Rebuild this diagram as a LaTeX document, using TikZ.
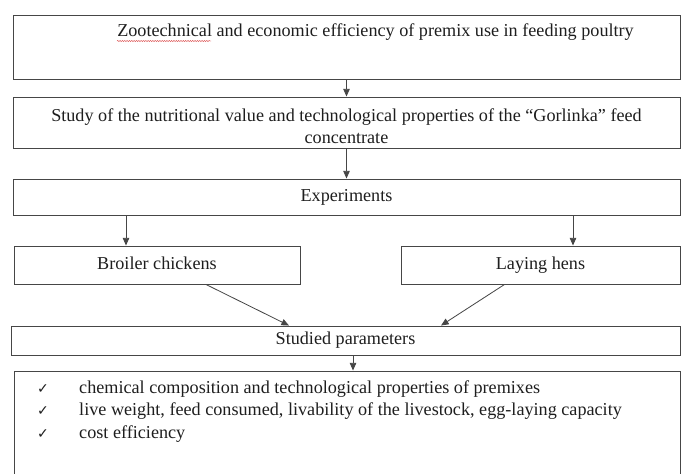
\documentclass[tikz,border=0pt]{standalone}
\usepackage{fontspec}
\setmainfont{Liberation Serif}
\newfontfamily\symfont{DejaVu Sans}
\usetikzlibrary{arrows.meta,decorations.pathmorphing}
\definecolor{linegray}{RGB}{70,70,70}
\definecolor{inkgray}{RGB}{30,30,30}

\begin{document}
\begin{tikzpicture}
  \tikzset{rect/.style={draw=linegray,rectangle,line width=0.8pt,inner sep=0pt,minimum width=20.01cm,font=\fontsize{15.5}{18.8}\selectfont,text=inkgray,align=center}}
  \tikzset{arrow/.style={draw=linegray,line width=0.7pt,-{Triangle[length=6.5pt,width=5.5pt]}}}
  \def\chk{\makebox[1.26cm][l]{\symfont\fontsize{12}{12}\selectfont ✓}}

  \useasboundingbox (0,0) rectangle (20.43,-14.19);

  \node[rect,minimum height=1.92cm,text height=0.645cm,text depth=1.275cm] (goal) at (10.395,-1.41) {\hspace*{1.74cm}Zootechnical and economic efficiency of premix use in feeding poultry};
  \node[rect,minimum height=1.53cm,text height=1.28cm] (study) at (10.395,-3.675) {Study of the nutritional value and technological properties of the “Gorlinka” feed\\concentrate};
  \node[rect,minimum height=1.08cm] (exp) at (10.395,-5.91) {\strut Experiments};

  \node[rect,minimum width=8.58cm,minimum height=1.14cm] (broiler) at (4.71,-7.95) {\strut Broiler chickens};
  \node[rect,minimum width=8.37cm,minimum height=1.14cm] (hens) at (16.215,-7.95) {\strut Laying hens};

  \node[rect,minimum width=20.07cm,minimum height=0.87cm] (params) at (10.365,-10.215) {\strut Studied parameters};
  \node[rect,minimum width=19.98cm,minimum height=3.57cm] (list) at (10.41,-12.915) {};
  \node[inner sep=0pt,anchor=base west,align=left,font=\fontsize{15.5}{19.2}\selectfont,text=inkgray] (items) at (1.11,-13.14)
    {\chk chemical composition and technological properties of premixes\\
     \chk live weight, feed consumed, livability of the livestock, egg-laying capacity\\
     \chk cost efficiency};

  % spelling mark under the first word
  \draw[red!80!black,line width=0.3pt,decorate,decoration={snake,amplitude=0.4pt,segment length=2pt}] (3.51,-1.23) -- (6.33,-1.23);

  \draw[arrow] (goal) -- (study);
  \draw[arrow] (study) -- (exp);

  \draw[arrow] ([xshift=-0.93cm]broiler.north |- exp.south) -- ([xshift=-0.93cm]broiler.north);
  \draw[arrow] ([xshift=0.975cm]hens.north |- exp.south) -- ([xshift=0.975cm]hens.north);

  \draw[arrow] ([xshift=1.47cm]broiler.south) -- ([xshift=-1.695cm]params.north);
  \draw[arrow] ([xshift=-1.08cm]hens.south) -- ([xshift=2.865cm]params.north);

  \draw[arrow] ([xshift=0.225cm]params.south) -- ([xshift=0.225cm]params.south |- list.north);

\end{tikzpicture}
\end{document}
